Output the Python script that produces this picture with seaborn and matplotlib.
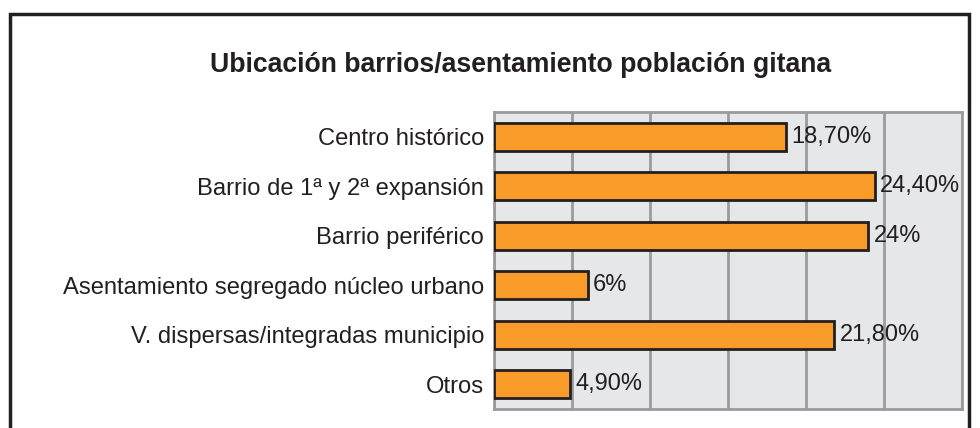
"""
Ubicación barrios/asentamiento población gitana.
Horizontal bar chart recreated with seaborn.
"""

import matplotlib.pyplot as plt
import matplotlib.patches as mpatches
import pandas as pd
import seaborn as sns

categories = [
    "Centro histórico",
    "Barrio de 1ª y 2ª expansión",
    "Barrio periférico",
    "Asentamiento segregado núcleo urbano",
    "V. dispersas/integradas municipio",
    "Otros",
]
values = [18.7, 24.4, 24.0, 6.0, 21.8, 4.9]
value_labels = ["18,70%", "24,40%", "24%", "6%", "21,80%", "4,90%"]
x_ticks = [0, 5, 10, 15, 20, 25, 30]

TITLE = "Ubicación barrios/asentamiento población gitana"
BAR_COLOR = "#F89B28"
BG_COLOR = "#E6E7E9"
GRID_COLOR = "#9A9B9D"
TEXT_COLOR = "#231F20"

sns.set_theme(style="white")
plt.rcParams["font.family"] = ["Liberation Sans", "DejaVu Sans"]

df = pd.DataFrame({"category": categories, "value": values})

fig = plt.figure(figsize=(9.8, 4.28), dpi=100)
ax = fig.add_axes([494 / 980, 1 - 409 / 428, 468 / 980, 297 / 428])

sns.barplot(
    data=df,
    x="value",
    y="category",
    orient="h",
    color=BAR_COLOR,
    saturation=1,
    width=0.57,
    edgecolor=TEXT_COLOR,
    linewidth=2,
    ax=ax,
    zorder=3,
)

ax.set_facecolor(BG_COLOR)
ax.set_xlim(0, 30)
ax.set_xticks(x_ticks)
ax.set_xticklabels([])
ax.xaxis.grid(True, color=GRID_COLOR, linewidth=2)
ax.set_axisbelow(True)
ax.tick_params(axis="both", length=0)
ax.tick_params(axis="y", pad=7, labelsize=17.1, labelcolor=TEXT_COLOR)
ax.set_xlabel("")
ax.set_ylabel("")
for spine in ax.spines.values():
    spine.set_color(GRID_COLOR)
    spine.set_linewidth(2)

for container in ax.containers:
    ax.bar_label(container, labels=value_labels, padding=4, fontsize=17, color=TEXT_COLOR)

fig.text(521 / 980, 1 - 65 / 428, TITLE, ha="center", va="center",
         fontsize=19.2, fontweight="bold", color=TEXT_COLOR)

# outer frame (bottom edge runs past the image)
frame = mpatches.Rectangle(
    (10 / 980, -0.1), 959 / 980, 1.1 - 14 / 428,
    transform=fig.transFigure, fill=False, edgecolor=TEXT_COLOR, linewidth=2.5,
)
fig.patches.append(frame)

fig.savefig("out.png", dpi=100)
